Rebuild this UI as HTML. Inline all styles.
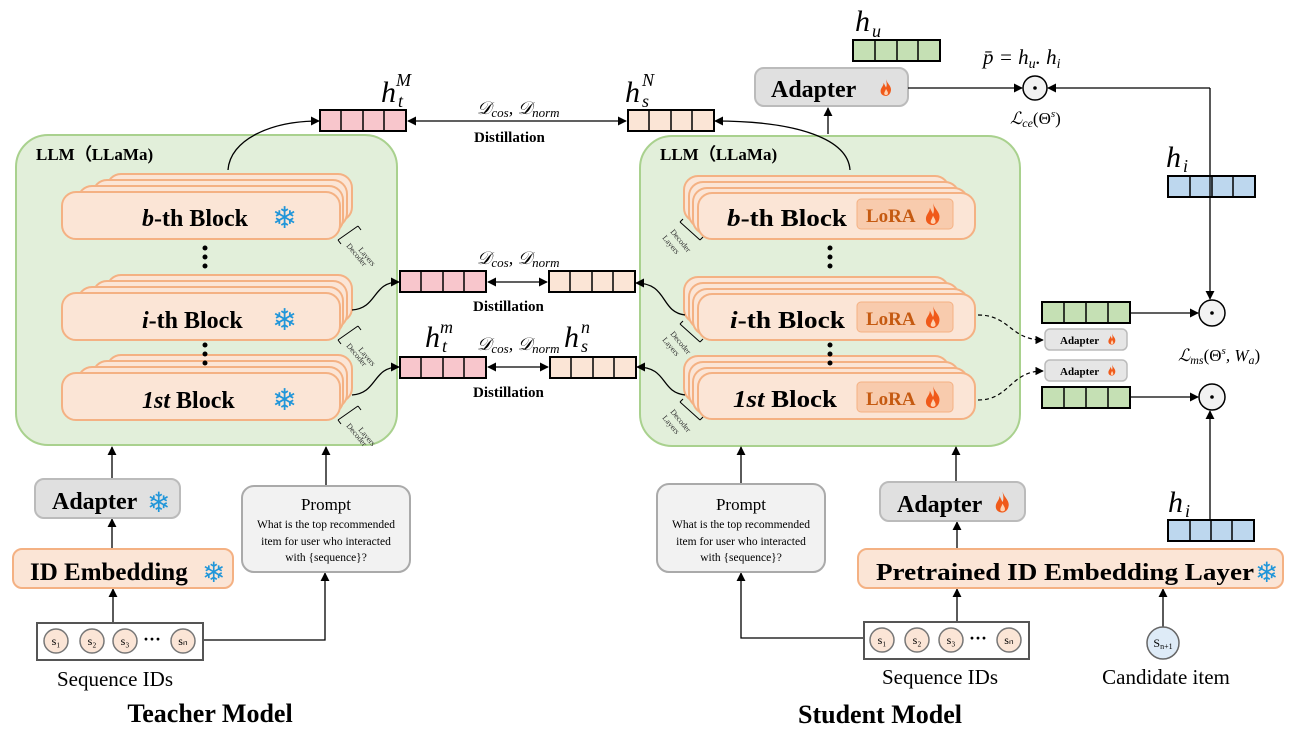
<!DOCTYPE html>
<html><head><meta charset="utf-8"><style>
html,body{margin:0;padding:0;background:#fff;}
svg{display:block;}
.s{font-family:"Liberation Serif",serif;}
</style></head><body>
<svg width="1294" height="752" viewBox="0 0 1294 752" xmlns="http://www.w3.org/2000/svg" class="s">
<defs>
<marker id="ar" viewBox="0 0 10 10" refX="9" refY="5" markerWidth="7" markerHeight="7" orient="auto-start-reverse"><path d="M0,0 L10,5 L0,10 z" fill="#000"/></marker>
<symbol id="fl" viewBox="0 0 10 14"><path d="M5,0 C6,4 10,6 9,10 C8.5,13 6,14 5,14 C3,14 0.5,13 0.5,10 C0.5,7 3,6 3,3 C4,5 4.5,6 5,7 C6,5 5.5,3 5,0 Z" fill="#f05a1a"/><path d="M5,8 C6,10 7,11 6.5,12.5 C6,13.5 4,13.5 3.6,12.5 C3.3,11 4.5,10 5,8 Z" fill="#ffd2b0"/></symbol>
</defs>

<rect x="16" y="135" width="381" height="310" rx="32" fill="#e2efda" stroke="#a9d18e" stroke-width="2"/>
<text x="36" y="160" font-size="17" font-weight="bold">LLM（LLaMa)</text>
<rect x="640" y="136" width="380" height="310" rx="32" fill="#e2efda" stroke="#a9d18e" stroke-width="2"/>
<text x="660" y="160" font-size="17" font-weight="bold">LLM（LLaMa)</text>

<g fill="#fbe5d6" stroke="#f4b183" stroke-width="2">
<rect x="107" y="174" width="245" height="47" rx="14"/><rect x="93" y="180" width="254" height="47" rx="14"/><rect x="78" y="186" width="265" height="47" rx="14"/><rect x="62" y="192" width="278" height="47" rx="14"/>
<rect x="107" y="275" width="245" height="47" rx="14"/><rect x="93" y="281" width="254" height="47" rx="14"/><rect x="78" y="287" width="265" height="47" rx="14"/><rect x="62" y="293" width="278" height="47" rx="14"/>
<rect x="107" y="355" width="245" height="47" rx="14"/><rect x="93" y="361" width="254" height="47" rx="14"/><rect x="78" y="367" width="265" height="47" rx="14"/><rect x="62" y="373" width="278" height="47" rx="14"/>
</g>
<g font-size="24" font-weight="bold">
<text x="142" y="226"><tspan font-style="italic">b</tspan>-th Block</text>
<text x="142" y="328"><tspan font-style="italic">i</tspan>-th Block</text>
<text x="142" y="408"><tspan font-style="italic">1st</tspan>   Block</text>
</g>
<g font-family="DejaVu Sans,sans-serif" font-size="30" fill="#2196d9">
<text x="272" y="228">❄</text><text x="272" y="330">❄</text><text x="272" y="410">❄</text>
</g>
<g fill="#000"><circle cx="205" cy="248" r="2.5"/><circle cx="205" cy="257" r="2.5"/><circle cx="205" cy="266" r="2.5"/>
<circle cx="205" cy="345" r="2.5"/><circle cx="205" cy="354" r="2.5"/><circle cx="205" cy="363" r="2.5"/></g>
<g font-size="8" fill="#333">
<text transform="translate(346,246) rotate(50)">Decoder</text><text transform="translate(358,250) rotate(50)">Layers</text>
<text transform="translate(346,346) rotate(50)">Decoder</text><text transform="translate(358,350) rotate(50)">Layers</text>
<text transform="translate(346,426) rotate(50)">Decoder</text><text transform="translate(358,430) rotate(50)">Layers</text>
</g>
<g stroke="#000" stroke-width="1" fill="none">
<path d="M338,240 L358,226 M338,240 L341,244 M358,226 L361,230"/>
<path d="M338,340 L358,326 M338,340 L341,344 M358,326 L361,330"/>
<path d="M338,420 L358,406 M338,420 L341,424 M358,406 L361,410"/>
</g>

<g fill="#fbe5d6" stroke="#f4b183" stroke-width="2">
<rect x="684" y="176" width="265" height="46" rx="14"/><rect x="689" y="182" width="270" height="46" rx="14"/><rect x="693" y="188" width="275" height="46" rx="14"/><rect x="698" y="193" width="277" height="46" rx="14"/>
<rect x="684" y="277" width="265" height="46" rx="14"/><rect x="689" y="283" width="270" height="46" rx="14"/><rect x="693" y="289" width="275" height="46" rx="14"/><rect x="698" y="294" width="277" height="46" rx="14"/>
<rect x="684" y="356" width="265" height="46" rx="14"/><rect x="689" y="362" width="270" height="46" rx="14"/><rect x="693" y="368" width="275" height="46" rx="14"/><rect x="698" y="373" width="277" height="46" rx="14"/>
</g>
<g font-size="24" font-weight="bold">
<text x="727" y="226" textLength="120" lengthAdjust="spacingAndGlyphs"><tspan font-style="italic">b</tspan>-th Block</text>
<text x="730" y="328" textLength="115" lengthAdjust="spacingAndGlyphs"><tspan font-style="italic">i</tspan>-th Block</text>
<text x="733" y="407" textLength="104" lengthAdjust="spacingAndGlyphs"><tspan font-style="italic">1st</tspan> Block</text>
</g>
<g fill="#f8cbad" stroke="#f4b183" stroke-width="1">
<rect x="857" y="199" width="96" height="30" rx="4"/><rect x="857" y="302" width="96" height="30" rx="4"/><rect x="857" y="382" width="96" height="30" rx="4"/>
</g>
<g font-size="19" font-weight="bold" fill="#c55a11">
<text x="866" y="222">LoRA</text><text x="866" y="325">LoRA</text><text x="866" y="405">LoRA</text>
</g>
<use href="#fl" x="925" y="203" width="16" height="22"/><use href="#fl" x="925" y="306" width="16" height="22"/><use href="#fl" x="925" y="386" width="16" height="22"/>
<g fill="#000"><circle cx="830" cy="248" r="2.5"/><circle cx="830" cy="257" r="2.5"/><circle cx="830" cy="266" r="2.5"/>
<circle cx="830" cy="345" r="2.5"/><circle cx="830" cy="354" r="2.5"/><circle cx="830" cy="363" r="2.5"/></g>
<g font-size="8" fill="#333">
<text transform="translate(670,232) rotate(50)">Decoder</text><text transform="translate(662,238) rotate(50)">Layers</text>
<text transform="translate(670,334) rotate(50)">Decoder</text><text transform="translate(662,340) rotate(50)">Layers</text>
<text transform="translate(670,412) rotate(50)">Decoder</text><text transform="translate(662,418) rotate(50)">Layers</text>
</g>
<g stroke="#000" stroke-width="1" fill="none">
<path d="M680,222 L700,240 M680,222 L683,219 M700,240 L703,237"/>
<path d="M680,324 L700,342 M680,324 L683,321 M700,342 L703,339"/>
<path d="M680,402 L700,420 M680,402 L683,399 M700,420 L703,417"/>
</g>

<g stroke="#000" stroke-width="2">
<g fill="#f8c6cc"><rect x="320" y="110" width="86" height="21"/><rect x="400" y="271" width="86" height="21"/><rect x="400" y="357" width="86" height="21"/></g>
<g fill="#fbe5d6"><rect x="628" y="110" width="86" height="21"/><rect x="549" y="271" width="86" height="21"/><rect x="550" y="357" width="86" height="21"/></g>
<g fill="#c5e0b4"><rect x="853" y="40" width="87" height="21"/><rect x="1042" y="302" width="88" height="21"/><rect x="1042" y="387" width="88" height="21"/></g>
<g fill="#bdd7ee"><rect x="1168" y="176" width="87" height="21"/><rect x="1168" y="520" width="86" height="21"/></g>
</g>
<g stroke="#000" stroke-width="1.5">
<path d="M341,110v21M363,110v21M384,110v21 M649,110v21M671,110v21M692,110v21 M421,271v21M443,271v21M464,271v21 M570,271v21M592,271v21M613,271v21 M421,357v21M443,357v21M464,357v21 M571,357v21M593,357v21M614,357v21 M875,40v21M897,40v21M918,40v21 M1064,302v21M1086,302v21M1108,302v21 M1064,387v21M1086,387v21M1108,387v21 M1190,176v21M1212,176v21M1233,176v21 M1190,520v21M1211,520v21M1232,520v21"/>
</g>

<g font-style="italic">
<text x="381" y="102" font-size="30">h</text><text x="398" y="107" font-size="18">t</text><text x="396" y="86" font-size="18">M</text>
<text x="625" y="102" font-size="30">h</text><text x="642" y="107" font-size="18">s</text><text x="642" y="86" font-size="18">N</text>
<text x="425" y="347" font-size="30">h</text><text x="442" y="352" font-size="18">t</text><text x="440" y="333" font-size="18">m</text>
<text x="564" y="347" font-size="30">h</text><text x="581" y="352" font-size="18">s</text><text x="581" y="333" font-size="18">n</text>
<text x="855" y="31" font-size="30">h</text><text x="872" y="37" font-size="18">u</text>
<text x="1166" y="167" font-size="30">h</text><text x="1183" y="172" font-size="18">i</text>
<text x="1168" y="512" font-size="30">h</text><text x="1185" y="517" font-size="18">i</text>
</g>
<g font-size="18" font-style="italic">
<text x="477" y="114">𝒟<tspan font-size="13" dy="3">cos</tspan><tspan dy="-3">, 𝒟</tspan><tspan font-size="13" dy="3">norm</tspan></text>
<text x="477" y="264">𝒟<tspan font-size="13" dy="3">cos</tspan><tspan dy="-3">, 𝒟</tspan><tspan font-size="13" dy="3">norm</tspan></text>
<text x="477" y="350">𝒟<tspan font-size="13" dy="3">cos</tspan><tspan dy="-3">, 𝒟</tspan><tspan font-size="13" dy="3">norm</tspan></text>
</g>
<g font-size="15" font-weight="bold">
<text x="474" y="142">Distillation</text><text x="473" y="311">Distillation</text><text x="473" y="397">Distillation</text>
</g>
<text x="983" y="64" font-size="21" font-style="italic">p̄ = h<tspan font-size="14" dy="4">u</tspan><tspan dy="-4">. h</tspan><tspan font-size="14" dy="4">i</tspan></text>
<text x="1010" y="124" font-size="17" font-style="italic">ℒ<tspan font-size="12" dy="3">ce</tspan><tspan dy="-3" font-style="normal">(Θ</tspan><tspan font-size="11" dy="-7">s</tspan><tspan dy="7" font-style="normal">)</tspan></text>
<text x="1178" y="361" font-size="17" font-style="italic">ℒ<tspan font-size="12" dy="3">ms</tspan><tspan dy="-3" font-style="normal">(Θ</tspan><tspan font-size="11" dy="-7">s</tspan><tspan dy="7">, W</tspan><tspan font-size="12" dy="3">a</tspan><tspan dy="-3" font-style="normal">)</tspan></text>

<g fill="#f2f2f2" stroke="#000" stroke-width="1.5">
<circle cx="1035" cy="88" r="12"/><circle cx="1212" cy="313" r="13"/><circle cx="1212" cy="397" r="13"/>
</g>
<g fill="#000"><circle cx="1035" cy="88" r="1.8"/><circle cx="1212" cy="313" r="1.8"/><circle cx="1212" cy="397" r="1.8"/></g>

<rect x="755" y="68" width="153" height="38" rx="9" fill="#e0e0e0" stroke="#bbb" stroke-width="2"/>
<text x="771" y="97" font-size="24" font-weight="bold">Adapter</text>
<use href="#fl" x="880" y="79" width="12" height="17"/>

<rect x="1045" y="329" width="82" height="21" rx="5" fill="#e6e6e6" stroke="#bbb" stroke-width="1.5"/>
<text x="1060" y="344" font-size="11" font-weight="bold">Adapter</text><use href="#fl" x="1108" y="333" width="8" height="12"/>
<rect x="1045" y="360" width="82" height="21" rx="5" fill="#e6e6e6" stroke="#bbb" stroke-width="1.5"/>
<text x="1060" y="375" font-size="11" font-weight="bold">Adapter</text><use href="#fl" x="1108" y="364" width="8" height="12"/>

<g stroke="#000" stroke-width="1.3" fill="none" marker-end="url(#ar)">
<path d="M228,170 C230,140 270,121 319,121"/>
<path d="M850,170 C848,140 800,121 715,121"/>
<path d="M352,310 C378,308 372,282 399,282"/>
<path d="M352,395 C378,393 372,367 399,367"/>
<path d="M685,315 C660,312 668,283 636,283"/>
<path d="M685,395 C660,392 668,367 637,367"/>
<path d="M828,134 V108"/>
<path d="M908,88 H1022"/>
<path d="M1210,88 H1048"/>
<path d="M1210,88 V299"/>
<path d="M1130,313 H1198"/>
<path d="M1130,397 H1198"/>
<path d="M1210,520 V411"/>
<path d="M112,478 V447"/><path d="M112,548 V519"/><path d="M113,622 V589"/>
<path d="M203,640 H325 V573"/><path d="M326,485 V447"/>
<path d="M864,638 H741 V573"/><path d="M741,483 V447"/>
<path d="M957,622 V589"/><path d="M957,549 V522"/><path d="M956,481 V447"/>
<path d="M1163,627 V589"/>
</g>
<g stroke="#000" stroke-width="1.3" fill="none" marker-start="url(#ar)" marker-end="url(#ar)">
<path d="M408,121 H626"/><path d="M488,282 H547"/><path d="M488,367 H548"/>
</g>
<g stroke="#000" stroke-width="1.2" fill="none" stroke-dasharray="4,3" marker-end="url(#ar)">
<path d="M978,315 C1010,315 1010,340 1043,340"/>
<path d="M978,400 C1010,400 1010,371 1043,371"/>
</g>

<rect x="35" y="479" width="145" height="39" rx="9" fill="#e0e0e0" stroke="#bbb" stroke-width="2"/>
<text x="52" y="509" font-size="24" font-weight="bold">Adapter</text>
<text x="147" y="512" font-size="28" fill="#2196d9" font-family="DejaVu Sans,sans-serif">❄</text>
<rect x="13" y="549" width="220" height="39" rx="9" fill="#fbe5d6" stroke="#f4b183" stroke-width="2"/>
<text x="30" y="580" font-size="25" font-weight="bold">ID Embedding</text>
<text x="202" y="582" font-size="28" fill="#2196d9" font-family="DejaVu Sans,sans-serif">❄</text>
<rect x="242" y="486" width="168" height="86" rx="12" fill="#f2f2f2" stroke="#aaa" stroke-width="2"/>
<text x="326" y="510" font-size="17" text-anchor="middle">Prompt</text>
<g font-size="11.5" text-anchor="middle"><text x="326" y="528">What is the top recommended</text><text x="326" y="545">item for user who interacted</text><text x="326" y="561">with {sequence}?</text></g>
<rect x="37" y="623" width="166" height="37" fill="#fff" stroke="#555" stroke-width="2"/>
<g fill="#fbe5d6" stroke="#777" stroke-width="1.5"><circle cx="56" cy="641" r="12"/><circle cx="92" cy="641" r="12"/><circle cx="125" cy="641" r="12"/><circle cx="183" cy="641" r="12"/></g>
<g font-size="12" text-anchor="middle"><text x="56" y="645">s₁</text><text x="92" y="645">s₂</text><text x="125" y="645">s₃</text><text x="183" y="645">sₙ</text></g>
<text x="152" y="645" font-size="18" font-weight="bold" text-anchor="middle">···</text>
<text x="115" y="686" font-size="21" text-anchor="middle">Sequence IDs</text>
<text x="210" y="722" font-size="26" font-weight="bold" text-anchor="middle">Teacher Model</text>

<rect x="657" y="484" width="168" height="88" rx="12" fill="#f2f2f2" stroke="#aaa" stroke-width="2"/>
<text x="741" y="510" font-size="17" text-anchor="middle">Prompt</text>
<g font-size="11.5" text-anchor="middle"><text x="741" y="528">What is the top recommended</text><text x="741" y="545">item for user who interacted</text><text x="741" y="561">with {sequence}?</text></g>
<rect x="880" y="482" width="145" height="39" rx="9" fill="#e0e0e0" stroke="#bbb" stroke-width="2"/>
<text x="897" y="512" font-size="24" font-weight="bold">Adapter</text>
<use href="#fl" x="995" y="491" width="15" height="22"/>
<rect x="858" y="549" width="425" height="39" rx="9" fill="#fbe5d6" stroke="#f4b183" stroke-width="2"/>
<text x="876" y="580" font-size="24" font-weight="bold" textLength="378" lengthAdjust="spacingAndGlyphs">Pretrained ID Embedding Layer</text>
<text x="1255" y="582" font-size="28" fill="#2196d9" font-family="DejaVu Sans,sans-serif">❄</text>
<rect x="864" y="622" width="165" height="37" fill="#fff" stroke="#555" stroke-width="2"/>
<g fill="#fbe5d6" stroke="#777" stroke-width="1.5"><circle cx="882" cy="640" r="12"/><circle cx="917" cy="640" r="12"/><circle cx="951" cy="640" r="12"/><circle cx="1009" cy="640" r="12"/></g>
<g font-size="12" text-anchor="middle"><text x="882" y="644">s₁</text><text x="917" y="644">s₂</text><text x="951" y="644">s₃</text><text x="1009" y="644">sₙ</text></g>
<text x="978" y="644" font-size="18" font-weight="bold" text-anchor="middle">···</text>
<circle cx="1163" cy="643" r="16" fill="#deebf7" stroke="#666" stroke-width="1.5"/>
<text x="1163" y="647" font-size="12" text-anchor="middle">S<tspan font-size="8" dy="2">n+1</tspan></text>
<text x="940" y="684" font-size="21" text-anchor="middle">Sequence IDs</text>
<text x="1166" y="684" font-size="21" text-anchor="middle">Candidate item</text>
<text x="880" y="723" font-size="26" font-weight="bold" text-anchor="middle">Student Model</text>
</svg>
</body></html>
